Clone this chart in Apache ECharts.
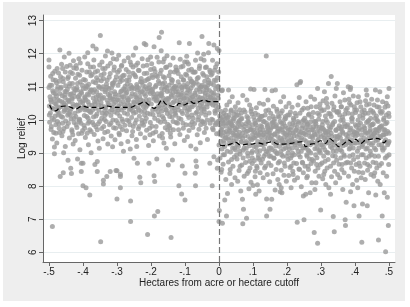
<!DOCTYPE html>
<html><head><meta charset="utf-8">
<script src="https://cdn.jsdelivr.net/npm/echarts@6/dist/echarts.min.js"></script>
<style>
html,body{margin:0;padding:0;background:#fff;width:410px;height:307px;overflow:hidden}
#c{position:absolute;left:3px;top:2px;width:402px;height:299px}
</style></head><body><div id="c"></div>
<script>
const xTicks = [-.5,-.4,-.3,-.2,-.1,0,.1,.2,.3,.4,.5];
const xTickLabels = ['-.5','-.4','-.3','-.2','-.1','0','.1','.2','.3','.4','.5'];
const yTicks = [6,7,8,9,10,11,12,13];
const yTickLabels = ['6','7','8','9','10','11','12','13'];

const leftPoints = [
[-.5,11.81],[-.5,11.6],[-.5,10.98],[-.499,10.42],[-.498,9.93],[-.497,10.7],[-.496,10.21],[-.495,11.32],[-.494,9.71],[-.493,10.55],[-.492,11.05],[-.491,10.05],[-.49,9.42],[-.489,10.88],[-.488,11.21],[-.487,10.33],[-.486,9.62],[-.485,10.64],[-.484,9.18],[-.483,11.47],[-.482,10.12],[-.481,10.79],[-.48,9.85],[-.479,10.48],[-.478,11.12],[-.477,9.3],[-.476,10.92],[-.475,10.27],[-.49,6.78],[-.484,8.98],
[-.474,10.61],[-.472,11.42],[-.471,9.88],[-.47,10.2],[-.468,12.11],[-.467,8.29],[-.466,10.95],[-.465,10.4],[-.463,11.68],[-.462,9.52],[-.461,10.73],[-.46,10.08],[-.459,11.25],[-.458,8.4],[-.457,10.52],[-.456,9.74],[-.455,11.9],[-.454,10.31],[-.453,10.86],[-.452,9.2],[-.451,11.03],[-.473,10.15],[-.469,9.62],[-.464,10.99],[-.46,11.55],[-.457,9.01],[-.455,10.45],[-.453,10.68],[-.451,9.97],[-.47,11.17],
[-.449,10.37],[-.448,11.61],[-.447,9.8],[-.446,10.92],[-.445,10.14],[-.444,8.78],[-.443,11.3],[-.442,10.58],[-.441,12.01],[-.44,9.45],[-.439,10.77],[-.438,10.25],[-.437,11.44],[-.436,8.54],[-.435,10.03],[-.434,8.38],[-.433,10.66],[-.432,9.65],[-.431,11.1],[-.43,10.48],[-.429,9.27],[-.428,11.79],[-.427,10.82],[-.426,9.92],[-.445,10.6],[-.44,11.02],[-.435,10.34],[-.43,9.55],[-.427,11.57],[-.442,10.19],
[-.424,10.71],[-.423,9.38],[-.422,11.26],[-.421,10.1],[-.42,11.64],[-.419,10.44],[-.418,9.77],[-.417,10.9],[-.416,8.82],[-.415,11.38],[-.414,10.27],[-.413,9.58],[-.412,11.85],[-.411,10.62],[-.41,10.02],[-.409,9.1],[-.408,11.15],[-.407,10.53],[-.406,9.9],[-.405,8.44],[-.405,8.69],[-.404,10.81],[-.403,11.5],[-.402,10.36],[-.401,9.68],[-.4,8.69],[-.4,8.01],[-.418,10.97],[-.413,10.41],[-.408,11.72],[-.41,10.75],
[-.399,10.58],[-.398,11.22],[-.397,9.83],[-.396,10.13],[-.395,11.9],[-.394,10.67],[-.393,9.47],[-.392,10.95],[-.391,7.95],[-.39,10.32],[-.389,11.45],[-.388,9.6],[-.387,10.78],[-.386,12.03],[-.385,10.05],[-.384,9.25],[-.383,11.08],[-.382,10.46],[-.381,9.95],[-.38,7.73],[-.379,10.86],[-.378,11.6],[-.377,10.22],[-.376,9.01],[-.395,10.7],[-.39,11.03],[-.385,10.55],[-.38,9.7],[-.377,11.33],[-.383,10.28],
[-.374,10.44],[-.373,11.37],[-.372,9.92],[-.371,12.23],[-.37,10.66],[-.369,10.09],[-.368,11.81],[-.367,9.56],[-.366,10.91],[-.365,8.65],[-.364,10.35],[-.363,11.12],[-.362,9.79],[-.361,12.14],[-.36,10.57],[-.359,10.18],[-.358,8.44],[-.358,8.74],[-.357,11.48],[-.356,9.36],[-.355,10.74],[-.354,11.02],[-.353,10.29],[-.352,9.14],[-.351,11.66],[-.37,10.83],[-.365,10.47],[-.36,11.27],[-.355,9.88],[-.352,10.62],
[-.349,12.55],[-.348,6.32],[-.347,10.52],[-.346,11.18],[-.345,9.74],[-.344,10.93],[-.343,10.2],[-.342,11.55],[-.341,9.43],[-.34,8.06],[-.34,8.18],[-.339,10.68],[-.338,11.4],[-.337,10.01],[-.336,9.62],[-.335,10.85],[-.334,11.93],[-.333,10.36],[-.332,9.95],[-.331,11.08],[-.33,8.29],[-.329,10.59],[-.328,12.08],[-.327,9.27],[-.326,10.77],[-.345,10.41],[-.34,11.25],[-.335,10.14],[-.33,10.99],[-.327,11.63],
[-.324,10.46],[-.323,11.29],[-.322,9.85],[-.321,10.72],[-.32,8.44],[-.319,11.71],[-.318,10.13],[-.317,9.51],[-.316,10.97],[-.315,12.02],[-.314,10.38],[-.313,9.19],[-.312,11.06],[-.311,10.62],[-.31,9.76],[-.309,11.5],[-.308,10.24],[-.307,10.85],[-.306,9.4],[-.305,11.2],[-.304,10.53],[-.303,8.47],[-.302,9.98],[-.301,11.83],[-.3,7.61],[-.3,8.46],[-.32,10.67],[-.315,10.31],[-.31,11.12],[-.305,10.78],
[-.299,10.61],[-.298,11.44],[-.297,9.9],[-.296,10.3],[-.295,11.95],[-.294,10.75],[-.293,9.55],[-.292,10.12],[-.291,11.15],[-.29,7.95],[-.29,8.29],[-.29,8.36],[-.289,10.48],[-.288,9.28],[-.287,11.62],[-.286,10.88],[-.285,10.02],[-.284,9.71],[-.283,11.33],[-.282,10.56],[-.281,9.05],[-.28,10.94],[-.279,11.78],[-.278,10.21],[-.277,9.84],[-.276,11.02],[-.295,10.42],[-.29,11.27],[-.285,10.7],[-.28,10.36],
[-.274,10.39],[-.273,11.52],[-.272,9.67],[-.271,10.83],[-.27,11.08],[-.269,10.17],[-.268,9.35],[-.267,11.88],[-.266,10.6],[-.265,9.96],[-.264,10.93],[-.263,11.3],[-.262,10.45],[-.261,9.12],[-.26,6.93],[-.26,7.55],[-.259,10.71],[-.258,11.66],[-.257,10.07],[-.256,9.52],[-.255,10.99],[-.254,10.28],[-.253,11.41],[-.252,9.8],[-.251,10.55],[-.25,8.84],[-.27,10.66],[-.265,11.19],[-.26,10.34],[-.255,10.8],[-.252,11.95],
[-.249,10.52],[-.248,11.36],[-.247,9.9],[-.246,10.77],[-.245,12.17],[-.244,10.23],[-.243,9.41],[-.242,11.07],[-.241,10.65],[-.24,8.69],[-.239,11.72],[-.238,10.36],[-.237,9.73],[-.236,10.96],[-.235,11.49],[-.234,10.11],[-.233,8.27],[-.232,10.83],[-.231,9.58],[-.23,8.1],[-.229,11.25],[-.228,10.47],[-.227,9.99],[-.226,11.85],[-.245,10.69],[-.24,10.9],[-.235,10.3],[-.23,10.6],[-.227,11.14],[-.242,9.2],
[-.224,10.58],[-.223,11.63],[-.222,9.84],[-.221,10.92],[-.22,12.31],[-.219,10.27],[-.218,9.46],[-.217,11.18],[-.216,10.73],[-.215,12.27],[-.214,10.05],[-.213,9.69],[-.212,11.41],[-.211,10.44],[-.21,6.54],[-.209,11.82],[-.208,10.86],[-.207,9.23],[-.206,8.69],[-.205,10.61],[-.204,11.07],[-.203,10.18],[-.202,9.92],[-.201,11.52],[-.22,10.79],[-.215,10.38],[-.21,11.22],[-.205,10.97],[-.203,9.55],[-.218,10.51],
[-.199,10.48],[-.198,11.7],[-.197,9.81],[-.196,10.84],[-.195,11.28],[-.194,10.16],[-.193,9.37],[-.192,10.69],[-.191,12.21],[-.191,8.31],[-.189,8.14],[-.19,7.1],[-.188,11.46],[-.187,10.33],[-.186,9.64],[-.185,11.05],[-.184,10.57],[-.183,8.82],[-.182,11.89],[-.181,10.79],[-.18,7.23],[-.179,9.98],[-.178,11.17],[-.177,10.42],[-.176,12.49],[-.175,9.51],[-.195,10.93],[-.19,10.62],[-.185,11.34],[-.18,10.25],[-.178,10.71],
[-.174,10.55],[-.173,11.4],[-.172,9.93],[-.171,10.8],[-.17,12.09],[-.169,12.65],[-.168,10.26],[-.167,9.59],[-.166,11.09],[-.165,10.67],[-.164,11.75],[-.163,10.04],[-.162,9.3],[-.161,10.91],[-.16,11.27],[-.159,10.39],[-.158,9.76],[-.157,11.58],[-.156,10.6],[-.155,9.14],[-.154,10.98],[-.153,11.94],[-.152,10.19],[-.151,9.87],[-.17,10.74],[-.165,10.46],[-.16,11.13],[-.155,10.31],[-.152,10.86],[-.166,9.45],
[-.149,8.64],[-.148,10.64],[-.147,11.33],[-.146,9.82],[-.145,10.88],[-.144,11.66],[-.143,10.22],[-.142,9.48],[-.141,6.45],[-.14,10.75],[-.139,11.12],[-.138,10.09],[-.137,8.79],[-.136,10.51],[-.135,11.87],[-.134,9.7],[-.133,10.95],[-.132,10.35],[-.131,11.45],[-.13,9.28],[-.129,10.68],[-.128,11.02],[-.127,10.14],[-.126,9.92],[-.145,10.43],[-.14,11.22],[-.135,10.81],[-.13,10.27],[-.127,11.6],[-.143,9.6],
[-.124,10.57],[-.123,11.5],[-.122,9.9],[-.121,10.84],[-.12,11.15],[-.119,10.3],[-.118,8.01],[-.117,12.33],[-.116,10.7],[-.115,9.56],[-.114,11.83],[-.113,10.45],[-.112,10.02],[-.111,11.3],[-.11,7.76],[-.109,10.92],[-.108,8.61],[-.107,10.19],[-.106,11.62],[-.105,9.75],[-.104,10.63],[-.103,11.05],[-.102,9.38],[-.101,10.36],[-.1,7.58],[-.1,8.39],[-.12,10.77],[-.115,10.51],[-.11,10.98],[-.105,11.21],[-.102,10.66],
[-.099,10.49],[-.098,11.38],[-.097,9.85],[-.096,10.73],[-.095,11.92],[-.094,10.28],[-.093,9.49],[-.092,11.1],[-.091,10.61],[-.09,11.69],[-.089,10.07],[-.088,9.68],[-.087,12.31],[-.086,10.87],[-.085,11.24],[-.084,10.4],[-.083,9.21],[-.082,10.96],[-.081,11.53],[-.08,10.15],[-.079,9.93],[-.078,10.69],[-.077,11.05],[-.076,10.53],[-.095,10.82],[-.09,10.34],[-.085,10.64],[-.08,11.17],[-.077,9.77],[-.093,10.99],
[-.074,10.62],[-.073,11.44],[-.072,9.89],[-.071,10.81],[-.07,8.39],[-.069,8.01],[-.068,8.76],[-.066,8.59],[-.067,11.14],[-.065,10.24],[-.064,9.55],[-.063,12.02],[-.062,10.7],[-.061,11.28],[-.06,10.09],[-.059,9.72],[-.058,10.93],[-.057,11.63],[-.056,10.44],[-.055,9.31],[-.054,10.99],[-.053,11.85],[-.052,10.34],[-.051,9.97],[-.05,12.52],[-.07,10.76],[-.065,10.55],[-.06,11.06],[-.055,10.67],[-.052,10.2],[-.068,9.12],
[-.049,10.65],[-.048,11.4],[-.047,9.94],[-.046,10.86],[-.045,11.98],[-.044,10.33],[-.043,9.62],[-.042,11.17],[-.041,10.72],[-.04,11.58],[-.039,10.14],[-.038,9.75],[-.037,10.97],[-.036,11.3],[-.035,10.48],[-.034,9.41],[-.033,11.05],[-.032,10.6],[-.031,12.03],[-.03,12.31],[-.029,10.21],[-.028,10.89],[-.027,8.69],[-.026,11.45],[-.045,10.57],[-.04,10.81],[-.035,10.39],[-.03,11.12],[-.027,10.7],[-.042,9.88],
[-.024,10.68],[-.023,11.36],[-.022,10.02],[-.021,10.83],[-.02,8.01],[-.019,11.8],[-.018,10.45],[-.017,9.7],[-.016,11.06],[-.015,8.89],[-.015,12.26],[-.014,10.62],[-.013,11.5],[-.012,10.27],[-.011,9.85],[-.01,10.94],[-.009,11.19],[-.008,10.51],[-.007,9.58],[-.006,11.7],[-.005,12.16],[-.005,8.54],[-.004,8.79],[-.003,10.75],[-.002,11.02],[-.001,10.38],[0,12.1],[0,10.9],[-.02,10.59],[-.015,10.81],[-.01,10.42],[-.005,11.27],[-.003,9.95]
];

const leftCorePoints = [
[-.499,10.15],[-.497,11.05],[-.495,10.6],[-.493,9.8],[-.491,10.35],[-.489,11.4],[-.487,10.82],[-.485,10.0],[-.483,10.5],[-.481,11.2],[-.48,9.6],[-.478,10.72],[-.477,10.4],[-.476,11.55],[-.475,9.95],
[-.474,11.0],[-.472,10.35],[-.47,9.75],[-.468,10.8],[-.466,11.3],[-.464,10.1],[-.462,10.55],[-.46,9.9],[-.458,11.15],[-.456,10.25],[-.454,10.75],[-.452,11.45],[-.451,10.45],[-.469,10.58],[-.459,9.65],
[-.449,10.85],[-.447,10.3],[-.445,11.25],[-.443,9.9],[-.441,10.55],[-.439,11.1],[-.437,10.15],[-.435,10.78],[-.433,9.7],[-.431,11.4],[-.429,10.4],[-.427,10.95],[-.426,10.05],[-.438,11.65],[-.432,10.62],
[-.424,10.2],[-.422,10.9],[-.42,9.85],[-.418,10.45],[-.416,11.1],[-.414,10.7],[-.412,10.0],[-.41,11.35],[-.408,10.3],[-.406,10.85],[-.404,9.6],[-.402,11.05],[-.401,10.52],[-.419,11.55],[-.411,9.95],
[-.399,10.95],[-.397,10.4],[-.395,9.75],[-.393,11.2],[-.391,10.6],[-.389,10.1],[-.387,11.0],[-.385,9.9],[-.383,10.75],[-.381,11.45],[-.379,10.25],[-.377,10.9],[-.376,9.65],[-.394,10.3],[-.386,11.7],
[-.374,10.9],[-.372,10.3],[-.37,11.15],[-.368,9.85],[-.366,10.55],[-.364,11.45],[-.362,10.12],[-.36,10.85],[-.358,9.7],[-.356,11.2],[-.354,10.45],[-.352,10.98],[-.351,9.95],[-.369,11.6],[-.361,10.7],
[-.349,10.75],[-.347,11.35],[-.345,10.05],[-.343,10.65],[-.341,11.0],[-.339,9.8],[-.337,10.4],[-.335,11.55],[-.333,10.9],[-.331,10.2],[-.329,11.2],[-.327,9.65],[-.326,10.5],[-.344,11.75],[-.336,10.28],
[-.324,10.95],[-.322,10.25],[-.32,11.4],[-.318,9.9],[-.316,10.6],[-.314,11.1],[-.312,10.0],[-.31,10.48],[-.308,11.6],[-.306,10.7],[-.304,9.75],[-.302,11.3],[-.301,10.35],[-.319,10.82],[-.311,11.85],
[-.299,10.2],[-.297,11.05],[-.295,10.6],[-.293,11.5],[-.291,9.8],[-.289,10.85],[-.287,10.3],[-.285,11.2],[-.283,9.95],[-.281,10.7],[-.279,11.35],[-.277,10.45],[-.276,10.9],[-.294,9.6],[-.286,11.65],
[-.274,10.8],[-.272,11.2],[-.27,10.0],[-.268,10.6],[-.266,11.45],[-.264,10.3],[-.262,9.85],[-.26,11.05],[-.258,10.4],[-.256,10.95],[-.254,9.65],[-.253,11.6],[-.251,10.2],[-.269,10.5],[-.261,11.75],
[-.249,10.95],[-.247,10.4],[-.245,11.3],[-.243,10.0],[-.241,11.0],[-.239,10.55],[-.237,11.5],[-.235,9.8],[-.233,10.7],[-.231,11.15],[-.229,10.25],[-.227,10.85],[-.226,9.9],[-.244,11.65],[-.236,10.5],
[-.224,11.05],[-.222,10.4],[-.22,11.4],[-.218,9.95],[-.216,11.0],[-.214,10.6],[-.212,11.65],[-.21,10.2],[-.208,10.5],[-.206,11.25],[-.204,9.75],[-.202,10.8],[-.201,11.9],[-.219,10.15],[-.211,10.95],
[-.199,10.9],[-.197,11.35],[-.195,10.3],[-.193,10.8],[-.191,11.55],[-.189,10.05],[-.187,11.0],[-.185,9.8],[-.183,10.6],[-.181,11.3],[-.179,10.4],[-.177,11.75],[-.176,10.15],[-.194,9.6],[-.186,10.7],
[-.174,11.1],[-.172,10.35],[-.17,11.5],[-.168,10.8],[-.166,10.1],[-.164,11.3],[-.162,10.55],[-.16,9.95],[-.158,11.0],[-.156,10.3],[-.154,11.6],[-.152,10.65],[-.151,9.7],[-.169,10.95],[-.161,11.85],
[-.149,10.5],[-.147,11.05],[-.145,10.1],[-.143,11.45],[-.141,10.7],[-.139,10.35],[-.137,11.2],[-.135,9.95],[-.133,10.55],[-.131,11.0],[-.129,10.2],[-.127,10.85],[-.126,11.5],[-.144,9.75],[-.136,10.95],
[-.124,10.95],[-.122,10.4],[-.12,11.4],[-.118,10.05],[-.116,11.05],[-.114,10.6],[-.112,11.6],[-.11,10.25],[-.108,10.8],[-.106,9.9],[-.104,11.2],[-.102,10.5],[-.101,11.75],[-.119,9.7],[-.111,10.75],
[-.099,11.0],[-.097,10.45],[-.095,11.35],[-.093,10.15],[-.091,10.9],[-.089,11.5],[-.087,10.3],[-.085,9.85],[-.083,10.75],[-.081,11.15],[-.079,10.4],[-.077,11.45],[-.076,10.05],[-.094,11.75],[-.086,10.55],
[-.074,11.1],[-.072,10.45],[-.07,11.45],[-.068,10.2],[-.066,10.9],[-.064,11.25],[-.062,10.0],[-.06,10.6],[-.058,11.55],[-.056,10.85],[-.054,9.85],[-.052,11.0],[-.051,10.5],[-.069,11.8],[-.061,10.35],
[-.049,11.05],[-.047,10.4],[-.045,11.35],[-.043,10.25],[-.041,11.0],[-.039,10.6],[-.037,11.6],[-.035,10.0],[-.033,10.75],[-.031,11.2],[-.029,10.5],[-.027,11.5],[-.026,9.9],[-.044,11.8],[-.036,10.9],
[-.024,11.1],[-.022,10.5],[-.02,11.4],[-.018,10.0],[-.016,10.75],[-.014,11.2],[-.012,10.6],[-.01,11.6],[-.008,9.9],[-.006,10.3],[-.004,11.0],[-.002,10.65],[-.001,11.45],[-.019,9.75],[-.011,10.2]
];

const rightPoints = [
[0,9.24],[0,6.93],[.001,7.26],[.001,9.85],[.002,10.12],[.003,8.85],[.004,9.55],[.005,10.05],[.006,8.42],[.007,9.71],[.008,10.88],[.009,9.12],[.01,6.88],[.01,10.9],[.011,9.9],[.012,8.66],[.013,9.38],[.014,10.2],[.015,9.62],[.016,8.95],[.017,7.58],[.018,10.02],[.019,9.47],[.02,8.2],[.021,9.81],[.022,7.1],[.023,10.45],[.024,9.05],[.025,7.78],[.005,9.66],[.01,9.98],[.015,9.3],[.02,10.15],[.008,8.5],
[.026,9.58],[.027,10.08],[.028,8.73],[.029,9.92],[.03,9.27],[.031,10.55],[.032,8.38],[.033,9.76],[.034,9.03],[.035,10.27],[.036,9.45],[.037,8.05],[.038,9.84],[.039,10.7],[.04,9.15],[.041,8.6],[.042,9.97],[.043,9.36],[.044,10.18],[.045,8.88],[.046,9.68],[.047,8.25],[.048,10.4],[.049,9.52],[.03,9.7],[.035,9.88],[.04,9.6],[.045,10.05],[.028,10.9],[.033,8.5],[.048,9.1],
[.051,9.41],[.052,10.13],[.053,8.82],[.054,9.79],[.055,8.15],[.056,10.52],[.057,9.2],[.058,9.94],[.059,8.47],[.06,9.63],[.061,10.31],[.062,8.96],[.063,9.5],[.064,7.85],[.065,10.02],[.066,9.33],[.067,8.64],[.068,9.86],[.069,7.6],[.07,6.86],[.07,10.74],[.071,9.08],[.072,7.3],[.073,9.71],[.074,8.3],[.06,9.98],[.055,9.55],[.065,10.2],[.07,9.45],[.052,8.95],
[.076,9.52],[.077,10.24],[.078,8.71],[.079,9.88],[.08,9.14],[.081,7.03],[.082,10.6],[.083,8.38],[.084,9.66],[.085,8.9],[.086,10.06],[.087,9.29],[.088,7.92],[.089,9.8],[.09,10.45],[.091,8.55],[.092,9.43],[.093,10.93],[.094,8.12],[.095,9.71],[.096,9.0],[.097,10.18],[.098,8.68],[.099,9.57],[.1,8.02],[.08,9.35],[.085,9.95],[.09,9.22],[.095,10.33],[.098,8.85],
[.101,9.46],[.102,10.08],[.103,10.92],[.104,8.77],[.105,9.62],[.106,8.28],[.107,9.9],[.108,7.75],[.109,9.18],[.11,10.37],[.111,8.6],[.112,9.74],[.113,8.04],[.114,9.35],[.115,10.15],[.116,8.93],[.117,9.55],[.118,7.85],[.119,10.5],[.12,9.07],[.121,8.4],[.122,9.82],[.123,9.26],[.124,8.7],[.105,9.98],[.11,9.51],[.115,8.85],[.12,10.03],[.107,8.45],[.122,9.63],
[.126,9.38],[.127,10.11],[.128,8.81],[.129,9.7],[.13,8.25],[.131,10.47],[.132,9.12],[.133,9.95],[.134,8.55],[.135,10.92],[.136,9.48],[.137,8.96],[.138,10.28],[.139,11.93],[.14,7.1],[.14,7.61],[.141,9.64],[.142,8.35],[.143,9.83],[.144,10.6],[.145,9.03],[.146,8.7],[.147,9.57],[.148,10.05],[.149,8.13],[.15,7.3],[.13,9.55],[.135,9.27],[.14,9.9],[.145,9.7],[.148,8.9],
[.151,9.44],[.152,10.2],[.153,8.62],[.154,9.77],[.155,7.6],[.156,10.88],[.157,9.1],[.158,9.92],[.159,8.37],[.16,10.41],[.161,9.3],[.162,8.84],[.163,10.03],[.164,9.58],[.165,7.88],[.166,10.9],[.167,9.21],[.168,8.5],[.169,9.85],[.17,10.32],[.171,8.98],[.172,9.66],[.173,8.2],[.174,10.12],[.155,9.52],[.16,9.8],[.165,9.35],[.17,9.0],[.173,9.74],[.152,8.9],
[.176,9.36],[.177,10.08],[.178,8.74],[.179,9.73],[.18,7.83],[.181,10.55],[.182,9.05],[.183,8.48],[.184,9.9],[.185,7.8],[.186,10.28],[.187,9.27],[.188,8.9],[.189,9.62],[.19,10.7],[.191,8.33],[.192,9.48],[.193,10.02],[.194,8.6],[.195,9.81],[.196,9.15],[.197,10.4],[.198,8.15],[.199,9.55],[.18,9.95],[.185,9.4],[.19,9.12],[.195,10.1],[.177,8.05],[.183,7.95],
[.201,9.42],[.202,10.15],[.203,8.8],[.204,9.69],[.205,8.32],[.206,10.5],[.207,9.11],[.208,9.88],[.209,8.56],[.21,10.24],[.211,9.3],[.212,7.95],[.213,9.78],[.214,8.92],[.215,10.38],[.216,9.0],[.217,8.45],[.218,9.6],[.219,10.05],[.22,8.7],[.221,9.52],[.222,8.18],[.223,9.85],[.224,9.25],[.205,9.55],[.21,9.7],[.215,9.4],[.22,10.0],[.218,8.35],[.203,9.2],
[.226,9.35],[.227,10.12],[.228,8.68],[.229,11.06],[.23,6.91],[.23,9.77],[.231,8.25],[.232,10.45],[.233,9.05],[.234,9.9],[.235,8.52],[.236,10.68],[.237,9.28],[.238,11.12],[.239,8.88],[.24,11.16],[.241,9.63],[.242,7.98],[.243,9.45],[.244,10.3],[.245,8.72],[.246,9.82],[.247,9.15],[.248,8.4],[.249,10.0],[.25,6.98],[.23,9.5],[.235,9.65],[.24,9.22],[.245,9.95],[.248,7.7],
[.251,9.4],[.252,10.05],[.253,8.6],[.254,9.74],[.255,7.75],[.256,10.55],[.257,9.2],[.258,8.95],[.259,9.88],[.26,8.3],[.261,10.35],[.262,9.08],[.263,8.5],[.264,9.62],[.265,10.18],[.266,8.82],[.267,9.5],[.268,7.8],[.269,9.94],[.27,10.7],[.271,8.68],[.272,9.33],[.273,8.1],[.274,9.7],[.255,9.55],[.26,9.85],[.265,9.3],[.27,9.0],[.273,10.08],[.258,8.25],
[.276,9.45],[.277,10.22],[.278,8.76],[.279,9.8],[.28,6.6],[.281,10.62],[.282,9.13],[.283,8.45],[.284,9.95],[.285,8.1],[.286,10.4],[.287,9.27],[.288,8.86],[.289,9.66],[.29,6.27],[.29,10.95],[.291,8.55],[.292,9.52],[.293,10.02],[.294,8.3],[.295,9.78],[.296,9.1],[.297,10.48],[.298,8.65],[.299,7.28],[.28,9.58],[.285,9.88],[.29,9.38],[.295,10.15],[.298,9.0],[.282,7.9],
[.301,9.5],[.302,10.28],[.303,8.7],[.304,9.85],[.305,8.22],[.306,10.58],[.307,9.18],[.308,8.9],[.309,9.7],[.31,10.85],[.311,8.45],[.312,9.4],[.313,10.12],[.314,8.05],[.315,9.6],[.316,10.65],[.317,9.02],[.318,8.55],[.319,9.92],[.32,10.38],[.321,8.8],[.322,9.55],[.323,7.95],[.324,9.3],[.305,9.75],[.31,9.45],[.315,10.0],[.32,9.65],[.322,11.1],[.308,8.35],
[.326,9.38],[.327,10.18],[.328,8.6],[.329,9.78],[.33,11.31],[.331,8.28],[.332,10.5],[.333,9.15],[.334,8.92],[.335,9.9],[.336,7.08],[.337,10.3],[.338,9.25],[.339,6.62],[.34,8.45],[.341,10.72],[.342,9.5],[.343,8.1],[.344,9.68],[.345,10.95],[.346,8.78],[.347,9.42],[.348,11.1],[.349,8.35],[.33,9.6],[.335,9.33],[.34,9.95],[.345,9.05],[.348,10.22],[.328,7.75],
[.351,9.48],[.352,10.25],[.353,8.66],[.354,9.82],[.355,8.25],[.356,10.55],[.357,9.1],[.358,8.85],[.359,9.72],[.36,10.4],[.361,8.5],[.362,9.35],[.363,10.08],[.364,7.9],[.365,9.6],[.366,10.82],[.367,8.95],[.368,8.4],[.369,9.88],[.37,10.18],[.371,6.98],[.372,6.81],[.373,9.25],[.374,7.51],[.355,9.55],[.36,9.78],[.365,9.22],[.37,10.6],[.373,8.7],[.358,9.98],
[.376,9.42],[.377,10.35],[.378,8.72],[.379,9.85],[.38,11.0],[.381,8.3],[.382,10.62],[.383,9.12],[.384,8.9],[.385,9.7],[.386,10.92],[.387,7.83],[.388,10.45],[.389,9.28],[.39,8.55],[.391,9.95],[.392,10.18],[.393,8.05],[.394,9.55],[.395,10.72],[.396,8.8],[.397,7.41],[.398,9.62],[.399,10.3],[.38,9.5],[.385,9.3],[.39,10.05],[.395,9.15],[.398,8.45],[.387,10.98],
[.401,9.5],[.402,10.22],[.403,8.65],[.404,9.8],[.405,8.18],[.406,10.52],[.407,9.05],[.408,8.88],[.409,9.68],[.41,10.7],[.411,8.42],[.412,7.1],[.413,9.35],[.414,10.12],[.415,8.6],[.416,9.9],[.417,10.4],[.418,8.25],[.419,9.55],[.42,6.3],[.421,9.2],[.422,7.46],[.423,10.05],[.424,8.95],[.405,9.6],[.41,9.85],[.415,9.3],[.42,10.25],[.423,8.4],[.408,7.95],
[.426,9.45],[.427,10.3],[.428,8.7],[.429,9.75],[.43,8.2],[.431,10.58],[.432,9.12],[.433,8.85],[.434,9.92],[.435,10.75],[.436,7.41],[.437,8.48],[.438,9.6],[.439,10.2],[.44,7.8],[.441,9.3],[.442,10.48],[.443,8.6],[.444,9.82],[.445,9.05],[.446,10.05],[.447,8.35],[.448,9.5],[.449,10.62],[.43,9.65],[.435,9.38],[.44,9.98],[.445,9.7],[.448,8.95],[.433,10.9],
[.451,9.52],[.452,10.25],[.453,8.72],[.454,9.88],[.455,8.3],[.456,10.45],[.457,9.15],[.458,8.9],[.459,9.7],[.46,10.9],[.461,7.73],[.462,9.38],[.463,10.12],[.464,8.55],[.465,9.6],[.466,10.6],[.467,8.15],[.468,9.95],[.469,6.37],[.47,9.25],[.471,10.38],[.472,8.62],[.473,9.78],[.474,8.05],[.455,9.58],[.46,9.45],[.465,10.0],[.47,9.68],[.473,10.85],[.458,8.4],
[.476,9.48],[.477,10.2],[.478,8.68],[.479,9.82],[.48,7.1],[.481,10.55],[.482,9.08],[.483,8.4],[.484,9.7],[.485,10.05],[.486,7.8],[.487,9.35],[.488,10.38],[.489,8.85],[.49,6.02],[.491,9.58],[.492,10.15],[.493,8.3],[.494,9.92],[.495,7.66],[.496,9.25],[.497,10.42],[.498,6.81],[.499,8.65],[.5,10.95],[.5,9.6],[.5,8.95],[.5,10.1],[.485,9.55],[.49,9.88],[.495,10.7],[.48,9.15]
];

const rightCorePoints = [
[.001,9.6],[.003,10.0],[.005,9.35],[.007,10.25],[.009,9.78],[.011,9.52],[.013,10.1],[.015,9.9],[.017,9.2],[.019,10.3],[.021,9.65],[.023,9.45],[.024,10.05],[.012,8.95],
[.026,9.9],[.028,9.4],[.03,10.15],[.032,9.65],[.034,9.95],[.036,10.3],[.038,9.3],[.04,9.82],[.042,10.05],[.044,9.55],[.046,9.15],[.048,9.75],[.049,10.25],[.037,8.8],
[.051,9.7],[.053,9.25],[.055,9.9],[.057,10.15],[.059,9.5],[.061,9.05],[.063,9.8],[.065,9.35],[.067,10.05],[.069,9.6],[.071,8.85],[.073,10.3],[.074,9.15],[.062,8.6],
[.076,9.8],[.078,9.3],[.08,9.65],[.082,10.1],[.084,9.0],[.086,9.5],[.088,9.92],[.09,8.75],[.092,9.7],[.094,10.25],[.096,9.4],[.098,9.05],[.099,9.85],[.087,8.45],
[.101,9.7],[.103,9.2],[.105,9.45],[.107,10.2],[.109,9.85],[.111,9.05],[.113,9.6],[.115,9.25],[.117,10.0],[.119,8.8],[.121,9.7],[.123,9.5],[.124,10.1],[.112,8.55],
[.126,9.8],[.128,9.25],[.13,9.95],[.132,8.9],[.134,9.6],[.136,10.15],[.138,9.35],[.14,9.05],[.142,9.78],[.144,9.45],[.146,10.3],[.148,9.15],[.149,9.6],[.137,8.6],
[.151,9.7],[.153,9.15],[.155,9.9],[.157,9.4],[.159,10.1],[.161,8.85],[.163,9.55],[.165,9.05],[.167,9.8],[.169,9.3],[.171,10.25],[.173,9.5],[.174,8.7],[.162,9.95],
[.176,9.65],[.178,9.2],[.18,9.45],[.182,10.2],[.184,8.95],[.186,9.7],[.188,9.35],[.19,9.9],[.192,8.7],[.194,9.6],[.196,10.05],[.198,9.3],[.199,8.9],[.187,9.78],
[.201,9.75],[.203,9.0],[.205,9.35],[.207,10.15],[.209,9.6],[.211,8.85],[.213,9.45],[.215,9.15],[.217,9.9],[.219,9.3],[.221,8.95],[.223,9.65],[.224,10.2],[.212,8.6],
[.226,9.7],[.228,9.15],[.23,9.3],[.232,9.95],[.234,8.95],[.236,9.55],[.238,10.2],[.24,9.4],[.242,9.05],[.244,9.75],[.246,8.7],[.248,9.6],[.249,10.35],[.237,8.5],
[.251,9.6],[.253,9.15],[.255,9.95],[.257,9.35],[.259,8.9],[.261,9.7],[.263,10.15],[.265,9.05],[.267,9.8],[.269,9.25],[.271,10.4],[.273,9.5],[.274,8.8],[.262,8.6],
[.276,9.7],[.278,9.3],[.28,9.95],[.282,9.55],[.284,8.95],[.286,9.8],[.288,9.15],[.29,10.2],[.292,9.4],[.294,9.05],[.296,9.65],[.298,10.35],[.299,9.25],[.287,8.65],
[.301,9.75],[.303,9.25],[.305,9.95],[.307,9.55],[.309,10.3],[.311,9.1],[.313,9.65],[.315,9.3],[.317,10.5],[.319,9.45],[.321,9.0],[.323,10.2],[.324,9.8],[.312,8.75],
[.326,9.7],[.328,9.2],[.33,10.1],[.332,9.5],[.334,9.85],[.336,9.05],[.338,10.4],[.34,9.35],[.342,8.9],[.344,9.7],[.346,10.25],[.348,9.5],[.349,9.15],[.337,8.7],
[.351,9.75],[.353,9.25],[.355,10.15],[.357,9.45],[.359,10.4],[.361,9.05],[.363,9.65],[.365,10.0],[.367,9.35],[.369,8.9],[.371,9.8],[.373,10.3],[.374,9.55],[.362,8.65],
[.376,9.8],[.378,9.3],[.38,10.2],[.382,9.6],[.384,10.5],[.386,9.15],[.388,9.75],[.39,9.4],[.392,10.05],[.394,8.95],[.396,9.65],[.398,10.4],[.399,9.3],[.387,8.7],
[.401,9.85],[.403,9.3],[.405,10.3],[.407,9.55],[.409,10.0],[.411,9.15],[.413,9.75],[.415,10.55],[.417,9.4],[.419,8.95],[.421,9.7],[.423,9.25],[.424,10.15],[.412,8.7],
[.426,9.8],[.428,9.35],[.43,10.2],[.432,9.6],[.434,10.45],[.436,9.15],[.438,9.95],[.44,9.45],[.442,8.9],[.444,9.65],[.446,10.3],[.448,9.25],[.449,9.85],[.437,8.65],
[.451,9.85],[.453,9.3],[.455,10.2],[.457,9.6],[.459,10.05],[.461,9.1],[.463,9.7],[.465,10.4],[.467,9.4],[.469,8.9],[.471,9.75],[.473,9.5],[.474,10.25],[.462,8.7],
[.476,9.8],[.478,9.25],[.48,10.25],[.482,9.55],[.484,10.0],[.486,9.15],[.488,9.7],[.49,9.4],[.492,10.5],[.494,8.9],[.496,9.65],[.498,9.3],[.499,10.2],[.5,9.35]
];

const leftLineX = [-.498,-.49,-.48,-.466,-.451,-.436,-.422,-.402,-.385,-.358,-.348,-.328,-.309,-.289,-.26,-.245,-.23,-.221,-.206,-.191,-.181,-.167,-.157,-.142,-.127,-.118,-.103,-.093,-.083,-.074,-.054,-.044,-.029,-.015,0];
const leftLineY = [10.45,10.30,10.27,10.40,10.42,10.38,10.33,10.42,10.38,10.38,10.35,10.42,10.38,10.38,10.38,10.44,10.50,10.55,10.45,10.35,10.42,10.60,10.48,10.42,10.40,10.50,10.45,10.50,10.55,10.50,10.57,10.60,10.55,10.55,10.55];
const rightLineX = [.003,.015,.034,.049,.064,.083,.098,.113,.132,.142,.157,.172,.191,.211,.23,.245,.255,.27,.284,.299,.314,.324,.338,.353,.368,.382,.392,.402,.417,.431,.446,.461,.475,.485,.495];
const rightLineY = [9.24,9.22,9.27,9.32,9.24,9.27,9.27,9.31,9.27,9.31,9.34,9.27,9.27,9.29,9.33,9.34,9.19,9.27,9.29,9.37,9.29,9.44,9.34,9.19,9.29,9.39,9.32,9.41,9.29,9.39,9.41,9.44,9.41,9.31,9.44];

const zip = (a, b) => a.map((v, i) => [v, b[i]]);
const font = 'Liberation Sans, Arial, sans-serif';
const pointColor = '#9a9a9a';
const scatter = d => ({type: 'scatter', data: d, symbolSize: 5, itemStyle: {color: pointColor}, z: 2});

const chart = echarts.init(document.getElementById('c'), null, {renderer: 'canvas'});
chart.setOption({
  backgroundColor: '#eeeeee',
  animation: false,
  grid: {left: 40, right: 10, top: 13, bottom: 39, show: true, backgroundColor: '#ffffff', borderWidth: 0},
  xAxis: {
    type: 'value', min: -0.5176, max: 0.5176,
    name: 'Hectares from acre or hectare cutoff', nameLocation: 'middle', nameGap: 16, nameMoveOverlap: false,
    nameTextStyle: {fontFamily: font, fontSize: 10, color: '#222'},
    axisLine: {show: true, onZero: false, lineStyle: {color: '#666', width: 1}},
    axisTick: {show: true, length: 4, customValues: xTicks, lineStyle: {color: '#666'}},
    axisLabel: {customValues: xTicks, margin: 5, fontFamily: font, fontSize: 10, color: '#222',
      formatter: v => { const i = xTicks.findIndex(t => Math.abs(t - v) < 1e-9); return i >= 0 ? xTickLabels[i] : ''; }},
    splitLine: {show: false}
  },
  yAxis: {
    type: 'value', min: 5.707, max: 13.169,
    name: 'Log relief', nameLocation: 'middle', nameGap: 16, nameMoveOverlap: false,
    nameTextStyle: {fontFamily: font, fontSize: 10, color: '#222'},
    axisLine: {show: true, onZero: false, lineStyle: {color: '#666', width: 1}},
    axisTick: {show: true, length: 4, customValues: yTicks, lineStyle: {color: '#666'}},
    axisLabel: {customValues: yTicks, rotate: 90, margin: 5, fontFamily: font, fontSize: 10, color: '#222',
      formatter: v => { const i = yTicks.findIndex(t => Math.abs(t - v) < 1e-9); return i >= 0 ? yTickLabels[i] : ''; }},
    splitLine: {show: true, lineStyle: {color: '#e8eef0', width: 1}}
  },
  series: [
    scatter(leftPoints), scatter(leftCorePoints), scatter(rightPoints), scatter(rightCorePoints),
    {type: 'line', data: zip(leftLineX, leftLineY), showSymbol: false, smooth: 0.4,
      lineStyle: {color: '#000', width: 1.2, type: [5, 3]}, z: 4},
    {type: 'line', data: zip(rightLineX, rightLineY), showSymbol: false, smooth: 0.4,
      lineStyle: {color: '#000', width: 1.2, type: [5, 3]}, z: 4},
    {type: 'line', data: [], z: 5,
      markLine: {silent: true, symbol: ['none', 'none'], label: {show: false},
        lineStyle: {color: '#777', width: 1.2, type: [6, 3]},
        data: [{xAxis: 0}]}}
  ]
});
</script></body></html>
